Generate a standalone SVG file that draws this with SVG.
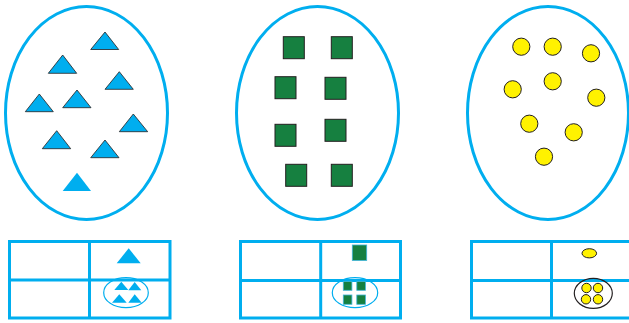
<svg xmlns="http://www.w3.org/2000/svg" width="629" height="323" viewBox="0 0 629 323">
<style>
.set{fill:none;stroke:#00aeef;stroke-width:3}
.tri{fill:#00aeef;stroke:#231f20;stroke-width:0.8}
.trin{fill:#00aeef;stroke:none}
.sq{fill:#168040;stroke:#231f20;stroke-width:1}
.sqs{fill:#168040;stroke:#3fb5d9;stroke-width:0.8}
.dot{fill:#fff200;stroke:#231f20;stroke-width:1}
.grid{fill:none;stroke:#00aeef;stroke-width:3}
.ring{fill:none;stroke:#00aeef;stroke-width:1.2}
.ringk{fill:none;stroke:#231f20;stroke-width:1.2}
</style>
<rect width="629" height="323" fill="#ffffff"/>
<g id="set-triangles">
<ellipse class="set" cx="86.5" cy="113" rx="81" ry="106.5"/>
<polygon class="tri" points="105,32 90.7,49.5 118.7,49.5"/>
<polygon class="tri" points="62.7,55 48.3,73.3 76.7,73.3"/>
<polygon class="tri" points="119.3,71.7 105,89.3 133.3,89.3"/>
<polygon class="tri" points="39.3,94 25.3,111.7 53.3,111.7"/>
<polygon class="tri" points="77,90 62.7,107.7 91,107.7"/>
<polygon class="tri" points="133.3,114 119.3,131.7 147.7,131.7"/>
<polygon class="tri" points="56.7,130.7 42.3,148.7 70.7,148.7"/>
<polygon class="tri" points="105,140 90.7,157.7 119,157.7"/>
<polygon class="trin" points="77,172.7 62.7,191 91,191"/>
</g>
<g id="set-squares">
<ellipse class="set" cx="317.5" cy="113" rx="81" ry="106.5"/>
<rect class="sq" x="283.3" y="36.7" width="21" height="22"/>
<rect class="sq" x="331.3" y="36.7" width="21" height="22"/>
<rect class="sq" x="275" y="76.7" width="21" height="22"/>
<rect class="sq" x="325" y="77.3" width="21" height="22"/>
<rect class="sq" x="275" y="124.3" width="21" height="22"/>
<rect class="sq" x="325" y="119.3" width="21" height="22"/>
<rect class="sq" x="285.7" y="164.3" width="21" height="22"/>
<rect class="sq" x="331.3" y="164.3" width="21" height="22"/>
</g>
<g id="set-circles">
<ellipse class="set" cx="548" cy="113" rx="80.5" ry="106.5"/>
<circle class="dot" cx="521.3" cy="46.7" r="8.6"/>
<circle class="dot" cx="552.7" cy="46.7" r="8.6"/>
<circle class="dot" cx="591" cy="53.3" r="8.6"/>
<circle class="dot" cx="512.7" cy="89.3" r="8.6"/>
<circle class="dot" cx="552.7" cy="81.3" r="8.6"/>
<circle class="dot" cx="596.3" cy="97.7" r="8.6"/>
<circle class="dot" cx="529.3" cy="123.7" r="8.6"/>
<circle class="dot" cx="573.7" cy="132.3" r="8.6"/>
<circle class="dot" cx="544" cy="156.7" r="8.6"/>
</g>
<g id="table-triangles">
<rect class="grid" x="9.5" y="241.5" width="160.5" height="76.5"/>
<line class="grid" x1="89.5" y1="241.5" x2="89.5" y2="318"/>
<line class="grid" x1="9.5" y1="280" x2="170" y2="280"/>
<polygon class="trin" points="128.7,248.3 116.7,263.3 140.7,263.3"/>
<ellipse class="ring" cx="126" cy="292.7" rx="22.3" ry="15"/>
<polygon class="trin" points="121.3,281.7 114.3,290 128.3,290"/>
<polygon class="trin" points="134.7,282 128.3,290.3 141.3,290.3"/>
<polygon class="trin" points="119.3,294.3 112,302.7 126.7,302.7"/>
<polygon class="trin" points="134.7,294.3 128.3,302.7 141.7,302.7"/>
</g>
<g id="table-squares">
<rect class="grid" x="240.5" y="241.5" width="160" height="76.5"/>
<line class="grid" x1="320.7" y1="241.5" x2="320.7" y2="318"/>
<line class="grid" x1="240.5" y1="280.5" x2="400.5" y2="280.5"/>
<rect class="sqs" x="352.3" y="245" width="14.4" height="15.5"/>
<ellipse class="ring" cx="355" cy="292.7" rx="22.7" ry="15"/>
<rect class="sqs" x="343.3" y="281.5" width="8.6" height="8.8"/>
<rect class="sqs" x="356.8" y="281.5" width="8.6" height="8.8"/>
<rect class="sqs" x="343.3" y="295" width="8.6" height="9.3"/>
<rect class="sqs" x="356.8" y="295" width="8.6" height="9.3"/>
</g>
<g id="table-circles">
<rect class="grid" x="471.5" y="241.5" width="162" height="76.5"/>
<line class="grid" x1="551.5" y1="241.5" x2="551.5" y2="318"/>
<line class="grid" x1="471.5" y1="280.5" x2="633" y2="280.5"/>
<ellipse class="dot" cx="589.3" cy="253.3" rx="7.3" ry="4.6"/>
<ellipse class="ringk" cx="593.3" cy="293.3" rx="19" ry="15"/>
<circle class="dot" cx="586.5" cy="288" r="4.7"/>
<circle class="dot" cx="598" cy="288" r="4.7"/>
<circle class="dot" cx="586" cy="299.3" r="4.7"/>
<circle class="dot" cx="598" cy="299.3" r="4.7"/>
</g>
<g id="connectors"></g>
</svg>
